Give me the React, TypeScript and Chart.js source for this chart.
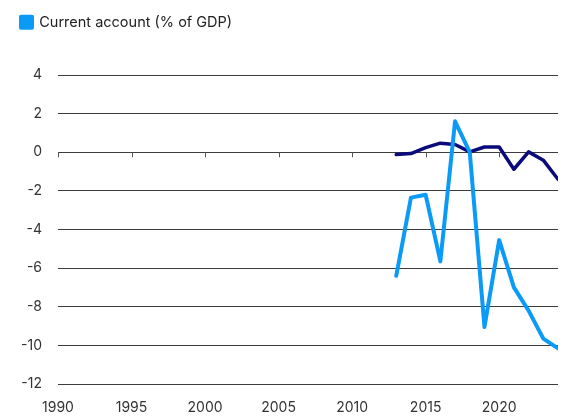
import React, { useEffect, useRef } from "react";
import { Chart, registerables } from "chart.js";

Chart.register(...registerables);

const years = [2013, 2014, 2015, 2016, 2017, 2018, 2019, 2020, 2021, 2022, 2023, 2024];
const currentAccount = [-6.4, -2.35, -2.2, -5.65, 1.6, 0.0, -9.05, -4.55, -7.0, -8.2, -9.65, -10.15];
const otherSeries = [-0.12, -0.07, 0.24, 0.47, 0.4, 0.02, 0.27, 0.27, -0.88, 0.02, -0.41, -1.4];
const xTickYears = [1990, 1995, 2000, 2005, 2010, 2015, 2020];
const yTicks = [-12, -10, -8, -6, -4, -2, 0, 2, 4];

const LIGHT_BLUE = "#0b9bf7";
const NAVY = "#0a0a7a";
const FONT = "Inter";

export default function App() {
  const ref = useRef<HTMLCanvasElement | null>(null);

  useEffect(() => {
    if (!ref.current) return;

    const zeroTicks = {
      id: "zeroTicks",
      beforeDatasetsDraw(chart: any) {
        const x = chart.scales.x;
        const y = chart.scales.y;
        const y0 = y.getPixelForValue(0);
        const ctx = chart.ctx;
        ctx.save();
        ctx.strokeStyle = "#555";
        ctx.lineWidth = 1;
        xTickYears.forEach((yr) => {
          const px = Math.round(x.getPixelForValue(yr)) + 0.5;
          ctx.beginPath();
          ctx.moveTo(px, y0);
          ctx.lineTo(px, y0 + 5);
          ctx.stroke();
        });
        ctx.restore();
      },
    };

    const legendSpace = {
      id: "legendSpace",
      beforeInit(chart: any) {
        const lg = chart.legend;
        if (!lg) return;
        const orig = lg.fit;
        lg.fit = function () {
          orig.call(this);
          this.height = 70;
        };
      },
      afterLayout(chart: any) {
        const lg = chart.legend;
        if (!lg) return;
        lg.left = 11;
        lg.right = lg.left + lg.width;
      },
    };

    const chart = new Chart(ref.current, {
      type: "line",
      data: {
        datasets: [
          {
            label: "Current account (% of GDP)",
            data: years.map((yr, i) => ({ x: yr, y: currentAccount[i] })),
            borderColor: LIGHT_BLUE,
            backgroundColor: LIGHT_BLUE,
            borderWidth: 4,
            pointRadius: 0,
            tension: 0,
            borderJoinStyle: "round",
            borderCapStyle: "round",
          },
          {
            label: "Other",
            data: years.map((yr, i) => ({ x: yr, y: otherSeries[i] })),
            borderColor: NAVY,
            backgroundColor: NAVY,
            borderWidth: 3.5,
            pointRadius: 0,
            tension: 0,
            borderJoinStyle: "round",
            borderCapStyle: "round",
          },
        ],
      },
      options: {
        responsive: false,
        animation: false,
        devicePixelRatio: 1,
        layout: { padding: { left: 9, right: 5, top: 5, bottom: 0 } },
        plugins: {
          tooltip: { enabled: false },
          legend: {
            position: "top",
            align: "start",
            labels: {
              boxWidth: 11,
              boxHeight: 11,
              padding: 10,
              color: "#222",
              font: { family: FONT, size: 14.5 },
              filter: (item: any) => item.datasetIndex === 0,
            },
          },
        },
        scales: {
          x: {
            type: "linear",
            min: 1990,
            max: 2024,
            afterBuildTicks: (scale: any) => {
              scale.ticks = xTickYears.map((v) => ({ value: v }));
            },
            afterFit: (scale: any) => {
              scale.height = 35;
            },
            grid: { display: false, drawTicks: false },
            border: { display: false },
            ticks: {
              padding: 15,
              color: "#333",
              font: { family: FONT, size: 14 },
              maxRotation: 0,
              autoSkip: false,
              callback: (v: any) => String(v),
            },
          },
          y: {
            type: "linear",
            min: -12,
            max: 4,
            afterBuildTicks: (scale: any) => {
              scale.ticks = yTicks.map((v) => ({ value: v }));
            },
            afterFit: (scale: any) => {
              scale.width = 49;
            },
            grid: { color: "#3c3c3c", lineWidth: 1, drawTicks: false },
            border: { display: false },
            ticks: {
              padding: 16,
              color: "#333",
              font: { family: FONT, size: 14 },
              callback: (v: any) => String(v),
            },
          },
        },
      },
      plugins: [zeroTicks, legendSpace],
    });

    return () => chart.destroy();
  }, []);

  return (
    <div style={{ position: "fixed", left: 0, top: 0, width: 563, height: 419, background: "#fff" }}>
      <canvas ref={ref} width={563} height={419} style={{ width: 563, height: 419 }} />
    </div>
  );
}
